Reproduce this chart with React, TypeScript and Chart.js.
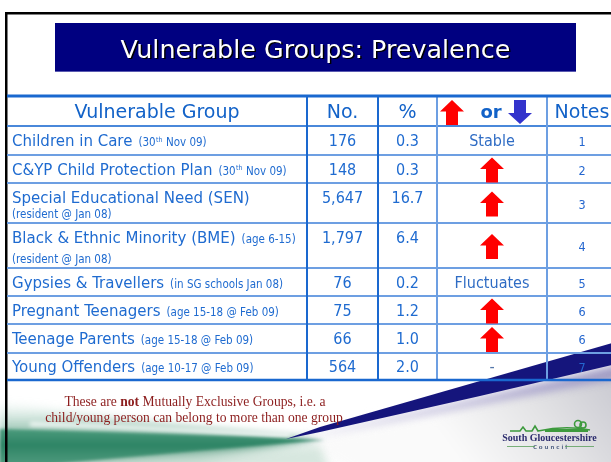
import React, { useEffect, useRef } from "react";
import { Chart, registerables } from "chart.js";

Chart.register(...registerables);

// ---------- content ----------
const TITLE = "Vulnerable Groups: Prevalence";
const HEADERS = ["Vulnerable Group", "No.", "%", "or", "Notes"];
const GROUPS = [
  "Children in Care",
  "C&YP Child Protection Plan",
  "Special Educational Need (SEN)",
  "Black & Ethnic Minority (BME)",
  "Gypsies & Travellers",
  "Pregnant Teenagers",
  "Teenage Parents",
  "Young Offenders",
];
const GROUP_QUALIFIERS = [
  "(30th Nov 09)",
  "(30th Nov 09)",
  "",
  "(age 6-15)",
  "(in SG schools Jan 08)",
  "(age 15-18 @ Feb 09)",
  "(age 15-18 @ Feb 09)",
  "(age 10-17 @ Feb 09)",
];
const GROUP_SECOND_LINE = ["", "", "(resident @ Jan 08)", "(resident @ Jan 08)", "", "", "", ""];
const COUNTS = ["176", "148", "5,647", "1,797", "76", "75", "66", "564"];
const PERCENTS = ["0.3", "0.3", "16.7", "6.4", "0.2", "1.2", "1.0", "2.0"];
const TRENDS = ["Stable", "up", "up", "up", "Fluctuates", "up", "up", "-"];
const NOTES = ["1", "2", "3", "4", "5", "6", "6", "7"];
const FOOTNOTE_LINE1 = ["These are ", "not", " Mutually Exclusive Groups, i.e. a"];
const FOOTNOTE_LINE2 = "child/young person can belong to more than one group";
const LOGO_NAME = "South Gloucestershire";
const LOGO_SUB = "Council";

// ---------- layout (slide units) ----------
const SLIDE_W = 611;
const SLIDE_H = 462;
const COL_EDGES = [7, 307, 378, 437, 547, 617];
const ROW_EDGES = [96, 126, 155, 183, 223, 268, 296, 324, 353, 380];

const SANS = "'DejaVu Sans', sans-serif";
const COND = "'DejaVu Sans Condensed', 'DejaVu Sans', sans-serif";
const SERIF = "'Liberation Serif', 'Times New Roman', serif";

function drawArrow(ctx: CanvasRenderingContext2D, cx: number, top: number, w: number, h: number, up: boolean, color: string) {
  const hh = h * 0.46;
  const sw = w * 0.5;
  ctx.beginPath();
  if (up) {
    ctx.moveTo(cx, top);
    ctx.lineTo(cx + w / 2, top + hh);
    ctx.lineTo(cx + sw / 2, top + hh);
    ctx.lineTo(cx + sw / 2, top + h);
    ctx.lineTo(cx - sw / 2, top + h);
    ctx.lineTo(cx - sw / 2, top + hh);
    ctx.lineTo(cx - w / 2, top + hh);
  } else {
    const b = top + h;
    ctx.moveTo(cx, b);
    ctx.lineTo(cx + w / 2, b - hh);
    ctx.lineTo(cx + sw / 2, b - hh);
    ctx.lineTo(cx + sw / 2, top);
    ctx.lineTo(cx - sw / 2, top);
    ctx.lineTo(cx - sw / 2, b - hh);
    ctx.lineTo(cx - w / 2, b - hh);
  }
  ctx.closePath();
  ctx.fillStyle = color;
  ctx.fill();
}

function drawQualifier(ctx: CanvasRenderingContext2D, text: string, x: number, y: number, size: number, color: string) {
  ctx.fillStyle = color;
  ctx.textAlign = "left";
  const m = text.match(/^(.*?\d)(th)(.*)$/);
  ctx.font = `${size}px ${COND}`;
  if (!m) {
    ctx.fillText(text, x, y);
    return;
  }
  ctx.fillText(m[1], x, y);
  let cx = x + ctx.measureText(m[1]).width;
  ctx.font = `${size * 0.62}px ${COND}`;
  ctx.fillText(m[2], cx + 0.5, y - size * 0.38);
  cx += ctx.measureText(m[2]).width + 0.5;
  ctx.font = `${size}px ${COND}`;
  ctx.fillText(m[3], cx, y);
}

const slidePlugin = {
  id: "slide",
  beforeDraw(chart: any) {
    const ctx: CanvasRenderingContext2D = chart.ctx;
    const xs = chart.scales.x;
    const ys = chart.scales.y;
    const X = (v: number) => xs.getPixelForValue(v);
    const Y = (v: number) => ys.getPixelForValue(v);
    const poly = (pts: number[][]) => {
      ctx.beginPath();
      pts.forEach((p, i) => (i ? ctx.lineTo(X(p[0]), Y(p[1])) : ctx.moveTo(X(p[0]), Y(p[1]))));
      ctx.closePath();
    };

    ctx.save();
    ctx.fillStyle = "#ffffff";
    ctx.fillRect(X(0), Y(0), X(SLIDE_W) - X(0), Y(SLIDE_H) - Y(0));

    // --- bottom decoration ---
    // grey shading below the navy swoosh
    ctx.save();
    ctx.filter = "blur(7px)";
    const gg = ctx.createLinearGradient(X(611), Y(365), X(470), Y(470));
    gg.addColorStop(0, "#c8c8d0");
    gg.addColorStop(0.5, "#e4e4e6");
    gg.addColorStop(1, "#fafafa");
    ctx.fillStyle = gg;
    poly([[300, 440], [640, 362], [640, 480], [360, 480]]);
    ctx.fill();
    ctx.restore();

    // green swoosh haze
    ctx.save();
    ctx.filter = "blur(5px)";
    const gh = ctx.createLinearGradient(0, Y(402), 0, Y(442));
    gh.addColorStop(0, "rgba(150,200,180,0)");
    gh.addColorStop(1, "rgba(70,145,115,0.85)");
    ctx.fillStyle = gh;
    ctx.beginPath();
    ctx.moveTo(X(0), Y(402));
    ctx.quadraticCurveTo(X(110), Y(420), X(320), Y(440));
    ctx.lineTo(X(200), Y(462));
    ctx.lineTo(X(0), Y(470));
    ctx.closePath();
    ctx.fill();
    ctx.restore();

    // white highlight
    ctx.save();
    ctx.filter = "blur(2px)";
    ctx.strokeStyle = "rgba(255,255,255,0.85)";
    ctx.lineWidth = 4;
    ctx.beginPath();
    ctx.moveTo(X(30), Y(424));
    ctx.quadraticCurveTo(X(150), Y(428), X(290), Y(436));
    ctx.stroke();
    ctx.restore();

    // light area under the green band
    ctx.save();
    ctx.filter = "blur(4px)";
    ctx.fillStyle = "rgba(205,225,215,0.8)";
    poly([[60, 462], [200, 452], [320, 446], [330, 470], [60, 470]]);
    ctx.fill();
    ctx.restore();

    // main green band
    ctx.save();
    ctx.filter = "blur(1.8px)";
    const gm = ctx.createLinearGradient(0, Y(428), 0, Y(462));
    gm.addColorStop(0, "#4d9c7e");
    gm.addColorStop(0.5, "#2e8465");
    gm.addColorStop(1, "#4a977a");
    ctx.fillStyle = gm;
    ctx.beginPath();
    ctx.moveTo(X(0), Y(429));
    ctx.quadraticCurveTo(X(170), Y(434), X(325), Y(440));
    ctx.quadraticCurveTo(X(180), Y(452), X(50), Y(464));
    ctx.lineTo(X(0), Y(466));
    ctx.closePath();
    ctx.fill();
    ctx.restore();

    // purple shadow under navy
    ctx.save();
    ctx.filter = "blur(4px)";
    ctx.fillStyle = "rgba(100,90,170,0.5)";
    poly([[292, 440], [480, 398], [640, 360], [640, 374], [480, 404]]);
    ctx.fill();
    ctx.restore();

    // navy swoosh
    ctx.save();
    ctx.filter = "blur(0.7px)";
    ctx.fillStyle = "#15157c";
    poly([
      [286, 439],
      [320, 427],
      [480, 381],
      [616, 342],
      [616, 364],
      [480, 396],
      [320, 432],
    ]);
    ctx.fill();
    ctx.restore();

    // --- slide frame ---
    ctx.fillStyle = "#000000";
    ctx.fillRect(X(5), Y(12), X(SLIDE_W) - X(5), 2.5);
    ctx.fillRect(X(5), Y(12), 2.5, Y(SLIDE_H) - Y(12));

    // --- title ---
    ctx.fillStyle = "#000080";
    ctx.fillRect(X(55), Y(23), X(576) - X(55), Y(72) - Y(23));
    ctx.fillStyle = "#5a5ab0";
    ctx.fillRect(X(55), Y(71), X(576) - X(55), 1);
    ctx.font = `25.4px ${SANS}`;
    ctx.textAlign = "center";
    ctx.textBaseline = "alphabetic";
    ctx.fillStyle = "#000000";
    ctx.fillText(TITLE, X(315.5) + 1.5, Y(57.5) + 1.5);
    ctx.fillStyle = "#ffffff";
    ctx.fillText(TITLE, X(315.5), Y(57.5));
    ctx.restore();
  },
  afterDraw(chart: any) {
    const ctx: CanvasRenderingContext2D = chart.ctx;
    const xs = chart.scales.x;
    const ys = chart.scales.y;
    const X = (v: number) => xs.getPixelForValue(v);
    const Y = (v: number) => ys.getPixelForValue(v);
    const colCenter = (c: number) => X((COL_EDGES[c] + COL_EDGES[c + 1]) / 2);
    const rowTop = (r: number) => Y(ROW_EDGES[r]);
    const rowBottom = (r: number) => Y(ROW_EDGES[r + 1]);
    const rowMid = (r: number) => (rowTop(r) + rowBottom(r)) / 2;

    ctx.save();
    // --- table grid ---
    const light = "#6d9fe2";
    const dark = "#1a68cf";
    ctx.lineWidth = 2;
    for (let i = 1; i < ROW_EDGES.length - 1; i++) {
      ctx.strokeStyle = i === 1 ? "#4a88da" : light;
      ctx.beginPath();
      ctx.moveTo(X(COL_EDGES[0]), Y(ROW_EDGES[i]));
      ctx.lineTo(X(SLIDE_W), Y(ROW_EDGES[i]));
      ctx.stroke();
    }
    for (let c = 1; c < COL_EDGES.length - 1; c++) {
      ctx.strokeStyle = c <= 2 ? dark : light;
      ctx.beginPath();
      ctx.moveTo(X(COL_EDGES[c]), Y(ROW_EDGES[0]));
      ctx.lineTo(X(COL_EDGES[c]), Y(ROW_EDGES[ROW_EDGES.length - 1]));
      ctx.stroke();
    }
    ctx.strokeStyle = dark;
    ctx.lineWidth = 3;
    ctx.beginPath();
    ctx.moveTo(X(COL_EDGES[0]), Y(ROW_EDGES[0]));
    ctx.lineTo(X(SLIDE_W), Y(ROW_EDGES[0]));
    ctx.stroke();
    ctx.lineWidth = 2.5;
    ctx.beginPath();
    ctx.moveTo(X(COL_EDGES[0]), Y(ROW_EDGES[ROW_EDGES.length - 1]));
    ctx.lineTo(X(SLIDE_W), Y(ROW_EDGES[ROW_EDGES.length - 1]));
    ctx.stroke();

    // --- header ---
    const headColor = "#1262c8";
    ctx.textBaseline = "alphabetic";
    ctx.fillStyle = headColor;
    ctx.textAlign = "center";
    ctx.font = `19px ${SANS}`;
    const hb = rowMid(0) + 7;
    ctx.fillText(HEADERS[0], colCenter(0), hb);
    ctx.fillText(HEADERS[1], colCenter(1), hb);
    ctx.fillText(HEADERS[2], colCenter(2), hb);
    ctx.fillText(HEADERS[4], colCenter(4), hb);
    ctx.font = `bold 18px ${SANS}`;
    ctx.fillText(HEADERS[3], colCenter(3) - 1, hb);
    drawArrow(ctx, colCenter(3) - 40, rowTop(0) + 4, 24, 25, true, "#ff0000");
    drawArrow(ctx, colCenter(3) + 28, rowTop(0) + 4, 24, 24, false, "#3333cc");

    // --- body ---
    const textColor = "#1f6bd0";
    for (let r = 0; r < GROUPS.length; r++) {
      const row = r + 1;
      const twoLine = GROUP_SECOND_LINE[r] !== "";
      const mainBase = twoLine ? rowTop(row) + 20 : rowMid(row) + 5.5;
      ctx.textAlign = "left";
      ctx.fillStyle = textColor;
      ctx.font = `16.7px ${COND}`;
      const x0 = X(12);
      ctx.fillText(GROUPS[r], x0, mainBase);
      const w = ctx.measureText(GROUPS[r]).width;
      if (GROUP_QUALIFIERS[r]) drawQualifier(ctx, GROUP_QUALIFIERS[r], x0 + w + 6, mainBase, 11.5, textColor);
      if (twoLine) drawQualifier(ctx, GROUP_SECOND_LINE[r], x0, rowBottom(row) - 5.5, 11.5, textColor);

      ctx.textAlign = "center";
      ctx.fillStyle = textColor;
      ctx.font = `16px ${COND}`;
      ctx.fillText(COUNTS[r], colCenter(1), mainBase);
      ctx.fillText(PERCENTS[r], colCenter(2), mainBase);

      const t = TRENDS[r];
      if (t === "up") {
        drawArrow(ctx, colCenter(3), rowMid(row) - 11.5, 24, 25, true, "#ff0000");
      } else if (t === "down") {
        drawArrow(ctx, colCenter(3), rowMid(row) - 11.5, 24, 25, false, "#3333cc");
      } else {
        ctx.fillStyle = t === "-" ? "#5577aa" : "#2f6cc4";
        ctx.font = `16px ${COND}`;
        ctx.fillText(t, colCenter(3), rowMid(row) + 5.5);
      }
      ctx.fillStyle = "#2466cf";
      ctx.font = `12.5px ${COND}`;
      ctx.fillText(NOTES[r], colCenter(4), rowMid(row) + 5.5);
    }

    // --- footnote ---
    const fnColor = "#8c1d1d";
    const fnSize = 13.6;
    ctx.fillStyle = fnColor;
    ctx.textAlign = "left";
    const widths = FOOTNOTE_LINE1.map((s, i) => {
      ctx.font = `${i === 1 ? "bold " : ""}${fnSize}px ${SERIF}`;
      return ctx.measureText(s).width;
    });
    const total = widths.reduce((a, b) => a + b, 0);
    let fx = X(195) - total / 2;
    FOOTNOTE_LINE1.forEach((s, i) => {
      ctx.font = `${i === 1 ? "bold " : ""}${fnSize}px ${SERIF}`;
      ctx.fillText(s, fx, Y(406));
      fx += widths[i];
    });
    ctx.font = `${fnSize}px ${SERIF}`;
    ctx.textAlign = "center";
    ctx.fillText(FOOTNOTE_LINE2, X(194), Y(422));

    // --- logo ---
    ctx.strokeStyle = "#3d9a3d";
    ctx.lineWidth = 1.6;
    ctx.beginPath();
    ctx.moveTo(X(510), Y(431));
    ctx.lineTo(X(520), Y(431));
    ctx.lineTo(X(523), Y(427));
    ctx.lineTo(X(526), Y(431));
    ctx.lineTo(X(532), Y(431));
    ctx.lineTo(X(535), Y(426));
    ctx.lineTo(X(538), Y(431));
    ctx.quadraticCurveTo(X(565), Y(425), X(590), Y(430));
    ctx.stroke();
    ctx.fillStyle = "#3d9a3d";
    ctx.fillRect(X(545), Y(429), X(588) - X(545), 3);
    ctx.beginPath();
    ctx.arc(X(578), Y(424), 3.5, 0, Math.PI * 2);
    ctx.stroke();
    ctx.beginPath();
    ctx.arc(X(583), Y(425), 3, 0, Math.PI * 2);
    ctx.stroke();
    ctx.fillStyle = "#2c2c6e";
    ctx.font = `bold 10px ${SERIF}`;
    ctx.textAlign = "center";
    ctx.fillText(LOGO_NAME, X(549.5), Y(441));
    ctx.font = `bold 5.5px ${SANS}`;
    ctx.fillStyle = "#5a6a8a";
    ctx.fillText(LOGO_SUB.split("").join(" "), X(550), Y(448.5));
    ctx.strokeStyle = "#5aa05a";
    ctx.lineWidth = 0.8;
    ctx.beginPath();
    ctx.moveTo(X(507), Y(446.5));
    ctx.lineTo(X(535), Y(446.5));
    ctx.moveTo(X(565), Y(446.5));
    ctx.lineTo(X(594), Y(446.5));
    ctx.stroke();

    ctx.restore();
  },
};

export default function App() {
  const ref = useRef<HTMLCanvasElement | null>(null);
  useEffect(() => {
    document.body.style.margin = "0";
    const canvas = ref.current;
    if (!canvas) return;
    const chart = new Chart(canvas, {
      type: "scatter",
      data: { datasets: [{ data: [] }] },
      options: {
        animation: false,
        responsive: false,
        events: [],
        layout: { padding: 0 },
        plugins: {
          legend: { display: false },
          tooltip: { enabled: false },
          title: { display: false },
        },
        scales: {
          x: { type: "linear", min: 0, max: SLIDE_W, display: false },
          y: { type: "linear", min: 0, max: SLIDE_H, reverse: true, display: false },
        },
      },
      plugins: [slidePlugin],
    } as any);
    return () => chart.destroy();
  }, []);
  return (
    <div style={{ width: SLIDE_W, height: SLIDE_H, overflow: "hidden" }}>
      <canvas ref={ref} width={SLIDE_W} height={SLIDE_H} style={{ display: "block" }} />
    </div>
  );
}
